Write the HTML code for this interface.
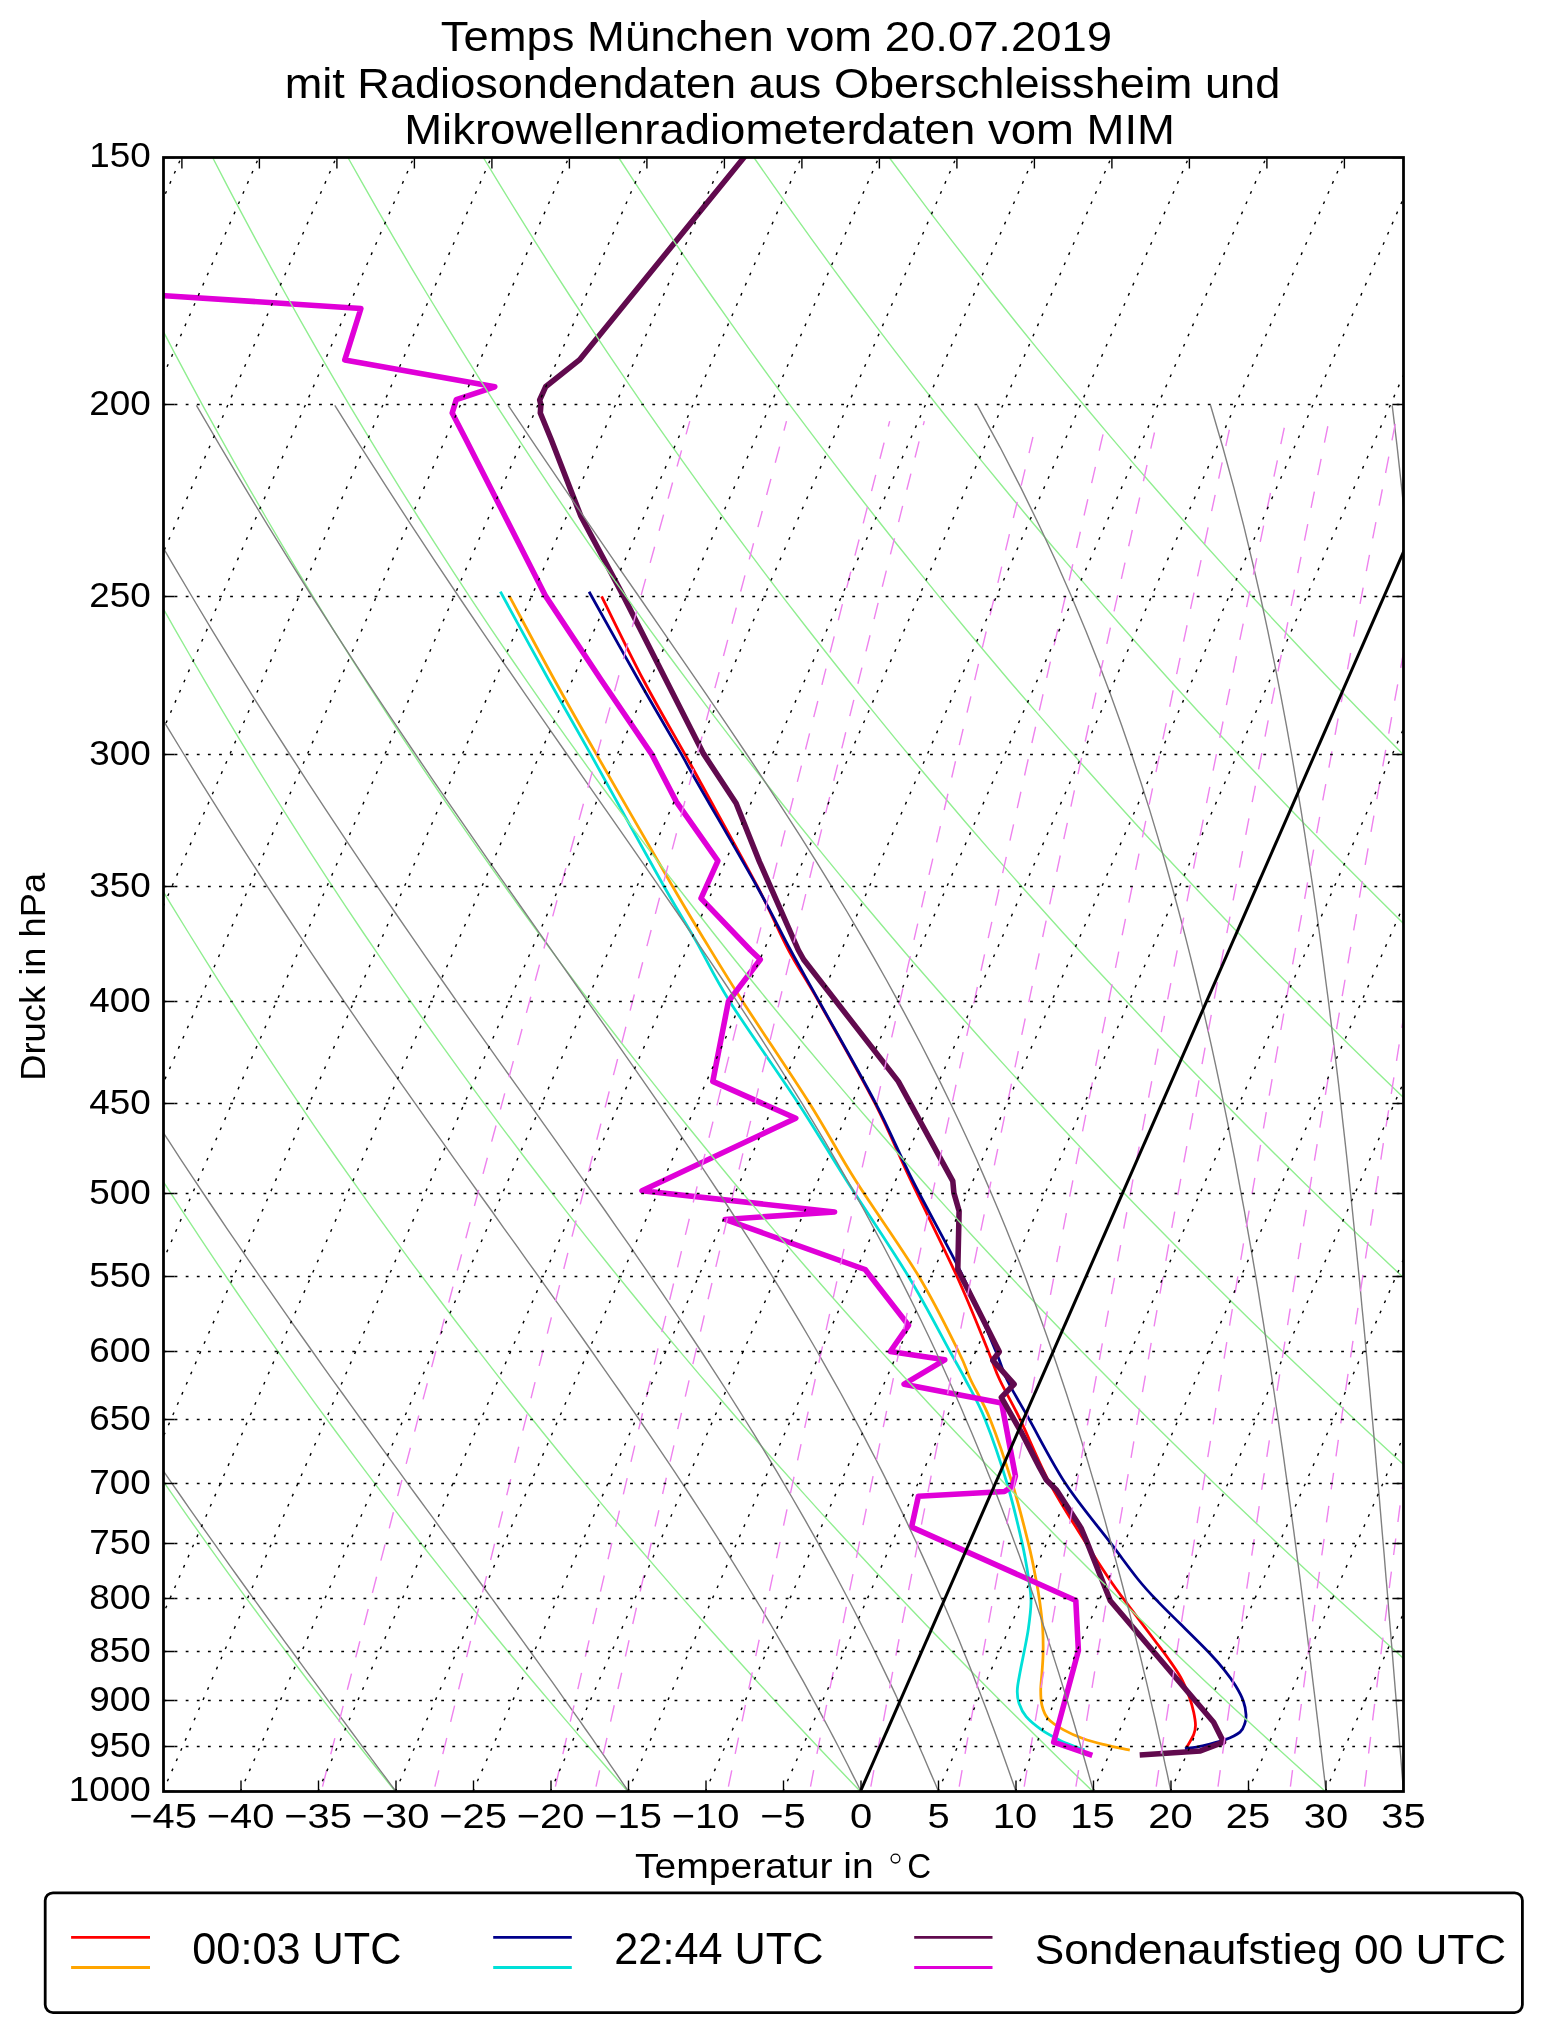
<!DOCTYPE html>
<html><head><meta charset="utf-8"><title>Temps</title>
<style>
html,body{margin:0;padding:0;background:#fff}
svg{display:block;will-change:transform}
text{font-family:"Liberation Sans",sans-serif;fill:#000}
.grid{fill:none;stroke:#000;stroke-width:1.4;stroke-dasharray:2.78 8.33}
.dry{fill:none;stroke:#90ee90;stroke-width:1.4}
.moist{fill:none;stroke:#808080;stroke-width:1.4}
.mix{fill:none;stroke:#ee82ee;stroke-width:1.4;stroke-dasharray:16.67 16.67}
.zero{fill:none;stroke:#000;stroke-width:3.0}
.tick{fill:none;stroke:#000;stroke-width:1.4}
.thin{fill:none;stroke-width:2.78;stroke-linecap:butt;stroke-linejoin:round}
.thick{fill:none;stroke-width:5.56;stroke-linecap:butt;stroke-linejoin:round}
</style></head><body>
<svg width="1542" height="2032" viewBox="0 0 1542 2032">
<rect width="1542" height="2032" fill="#fff"/>
<defs><clipPath id="c"><rect x="163.5" y="157.5" width="1240.0" height="1634.0"/></clipPath></defs>
<g clip-path="url(#c)">
<path d="M601.6 596.4 C608.6 610.3 629.5 653.7 643.4 680.0 C657.3 706.3 675.7 737.7 685.0 754.4 C694.3 771.1 687.2 758.0 699.2 780.0 C711.2 802.0 742.4 857.9 757.3 886.2 C772.2 914.5 778.3 930.8 788.5 950.0 C798.7 969.2 804.3 975.9 818.7 1001.5 C833.1 1027.1 859.7 1073.7 875.0 1103.4 C890.3 1133.2 896.9 1151.2 910.6 1180.0 C924.3 1208.8 944.0 1247.9 957.0 1276.5 C970.0 1305.1 981.3 1334.2 988.4 1351.5 C995.5 1368.8 994.5 1368.7 999.8 1380.0 C1005.1 1391.3 1011.8 1402.2 1020.1 1419.4 C1028.5 1436.7 1038.9 1462.8 1049.9 1483.5 C1060.9 1504.2 1076.2 1527.3 1086.2 1543.4 C1096.2 1559.5 1103.0 1569.8 1109.9 1580.0 C1116.8 1590.2 1120.2 1594.4 1127.6 1604.3 C1134.9 1614.2 1147.4 1630.7 1154.0 1639.5 C1160.6 1648.3 1162.9 1651.0 1167.3 1657.2 C1171.7 1663.5 1176.8 1670.4 1180.5 1677.0 C1184.2 1683.6 1187.1 1691.0 1189.3 1696.9 C1191.5 1702.8 1192.7 1707.5 1193.7 1712.3 C1194.7 1717.1 1195.5 1721.8 1195.5 1725.5 C1195.5 1729.2 1195.1 1730.9 1193.7 1734.4 C1192.3 1737.9 1188.4 1744.3 1187.1 1746.5 C1185.8 1748.7 1186.2 1747.4 1186.0 1747.6" class="thin" stroke="#ff0000"/>
<path d="M509.5 596.4 C517.0 610.3 540.0 653.7 554.5 680.0 C569.0 706.3 576.8 720.0 596.5 754.4 C616.2 788.8 654.5 855.3 672.5 886.2 C690.5 917.1 692.8 920.8 704.5 940.0 C716.2 959.2 725.2 974.3 742.7 1001.5 C760.2 1028.7 790.8 1073.7 809.6 1103.4 C828.4 1133.2 837.1 1151.2 855.3 1180.0 C873.5 1208.8 901.7 1247.9 918.9 1276.5 C936.1 1305.1 949.9 1334.2 958.5 1351.5 C967.1 1368.8 965.5 1368.7 970.8 1380.0 C976.1 1391.3 983.3 1402.2 990.2 1419.4 C997.1 1436.7 1005.9 1462.8 1012.3 1483.5 C1018.7 1504.2 1024.4 1527.3 1028.4 1543.4 C1032.4 1559.5 1034.2 1570.2 1036.1 1580.0 C1038.0 1589.8 1038.7 1594.0 1039.8 1602.1 C1040.9 1610.2 1042.2 1620.0 1042.7 1628.5 C1043.2 1637.0 1043.2 1645.5 1043.1 1652.8 C1043.0 1660.1 1042.4 1666.3 1042.0 1672.6 C1041.6 1678.8 1040.7 1684.8 1040.7 1690.3 C1040.7 1695.8 1040.8 1700.9 1042.0 1705.7 C1043.2 1710.5 1044.6 1714.9 1048.2 1718.9 C1051.8 1722.9 1057.7 1726.6 1063.6 1729.9 C1069.5 1733.2 1076.5 1736.3 1083.5 1738.8 C1090.5 1741.3 1097.8 1743.0 1105.5 1744.9 C1113.2 1746.8 1125.8 1749.3 1129.8 1750.2" class="thin" stroke="#ffa500"/>
<path d="M589.1 591.7 C597.3 606.4 623.1 652.9 638.5 680.0 C653.9 707.1 672.0 737.7 681.5 754.4 C691.0 771.1 683.2 758.0 695.8 780.0 C708.3 802.0 741.0 857.9 756.8 886.2 C772.6 914.5 780.1 930.8 790.5 950.0 C800.9 969.2 805.0 975.9 819.2 1001.5 C833.4 1027.1 860.2 1073.7 875.7 1103.4 C891.2 1133.2 897.9 1151.2 912.4 1180.0 C926.9 1208.8 949.1 1247.9 963.0 1276.5 C976.9 1305.1 988.5 1334.2 995.9 1351.5 C1003.2 1368.8 1001.5 1368.7 1007.1 1380.0 C1012.7 1391.3 1019.5 1402.2 1029.2 1419.4 C1038.9 1436.7 1051.9 1462.8 1065.5 1483.5 C1079.1 1504.2 1098.7 1527.3 1110.9 1543.4 C1123.1 1559.5 1130.7 1570.2 1138.6 1580.0 C1146.5 1589.8 1151.5 1594.8 1158.5 1602.1 C1165.5 1609.4 1172.0 1615.6 1180.5 1624.1 C1189.0 1632.5 1201.9 1645.1 1209.2 1652.8 C1216.5 1660.5 1220.2 1664.9 1224.6 1670.4 C1229.0 1675.9 1232.5 1680.7 1235.6 1685.8 C1238.7 1690.9 1241.7 1696.5 1243.4 1701.3 C1245.1 1706.1 1245.8 1710.8 1246.0 1714.5 C1246.2 1718.2 1245.9 1720.4 1244.9 1723.3 C1243.9 1726.2 1243.4 1729.3 1240.0 1732.1 C1236.6 1734.9 1230.8 1737.6 1224.6 1739.9 C1218.4 1742.2 1209.2 1744.3 1202.6 1745.8 C1196.0 1747.3 1187.9 1748.2 1184.9 1748.7" class="thin" stroke="#00008b"/>
<path d="M500.4 591.7 C508.5 606.4 533.7 652.9 548.8 680.0 C563.9 707.1 571.6 720.0 590.8 754.4 C610.0 788.8 646.4 855.3 663.9 886.2 C681.4 917.1 684.5 920.8 695.5 940.0 C706.5 959.2 712.6 974.3 729.7 1001.5 C746.9 1028.7 779.0 1073.7 798.4 1103.4 C817.8 1133.2 827.9 1151.2 846.2 1180.0 C864.6 1208.8 891.2 1247.9 908.5 1276.5 C925.8 1305.1 940.5 1334.2 950.0 1351.5 C959.5 1368.8 959.8 1368.7 965.6 1380.0 C971.5 1391.3 978.2 1402.2 985.1 1419.4 C992.0 1436.7 1000.9 1462.8 1007.1 1483.5 C1013.3 1504.2 1018.6 1527.3 1022.2 1543.4 C1025.8 1559.5 1027.3 1570.2 1028.8 1580.0 C1030.3 1589.8 1031.1 1594.0 1031.0 1602.1 C1030.9 1610.2 1029.6 1620.0 1028.4 1628.5 C1027.2 1637.0 1025.3 1645.5 1023.9 1652.8 C1022.5 1660.1 1021.1 1666.3 1020.0 1672.6 C1018.9 1678.8 1017.4 1685.1 1017.3 1690.3 C1017.1 1695.5 1017.6 1699.1 1019.1 1703.5 C1020.6 1707.9 1022.5 1712.3 1026.2 1716.7 C1030.0 1721.1 1036.1 1726.0 1041.6 1729.9 C1047.1 1733.8 1053.7 1737.1 1059.2 1739.9 C1064.7 1742.7 1070.5 1744.8 1074.7 1746.5 C1078.9 1748.2 1082.9 1749.2 1084.6 1749.8" class="thin" stroke="#00e0d8"/>
<path d="M140.0 294.2 L165.0 295.7 L360.9 308.5 L344.8 359.9 L494.8 386.8 L456.3 399.6 L452.2 413.0 L466.2 440.0 L545.8 596.4 L601.2 680.0 L651.8 754.4 L676.4 801.9 L717.9 860.8 L701.0 898.4 L750.3 950.0 L760.3 959.5 L728.4 1001.5 L712.8 1081.4 L795.8 1118.2 L642.0 1190.8 L834.6 1211.9 L725.1 1219.4 L865.2 1269.5 L908.5 1325.3 L890.3 1351.5 L944.8 1359.8 L904.1 1384.2 L1001.6 1403.0 L1015.4 1476.0 L1012.3 1486.4 L1004.5 1491.5 L918.4 1496.2 L911.6 1527.1 L1075.8 1600.5 L1078.4 1650.6 L1053.7 1742.1 L1092.3 1755.3" class="thick" stroke="#e000d8"/>
<path d="M756.4 142.2 L743.7 157.8 L579.4 359.9 L545.6 386.8 L539.7 400.0 L540.9 404.9 L540.3 413.0 L551.4 440.0 L580.8 516.0 L623.6 596.4 L666.0 680.0 L703.6 753.9 L736.1 803.2 L759.4 861.6 L798.3 950.0 L803.6 959.5 L898.3 1081.4 L952.8 1181.2 L953.9 1193.0 L959.1 1211.1 L957.8 1269.5 L999.3 1351.7 L992.8 1360.3 L1014.1 1384.2 L1001.3 1397.4 L1021.7 1433.0 L1039.2 1466.9 L1046.2 1479.7 L1056.7 1490.2 L1081.0 1527.9 L1087.5 1543.4 L1110.3 1600.8 L1213.6 1722.2 L1223.5 1742.1 L1200.4 1750.9 L1139.7 1754.9" class="thick" stroke="#610a4e"/>
<path d="M395.4 1791.5 L373.1 1763.8 L351.2 1736.1 L329.5 1708.4 L308.1 1680.7 L287.1 1653.0 L266.4 1625.3 L245.9 1597.6 L225.8 1569.9 L205.9 1542.2 L186.4 1514.6 L167.1 1486.9 L148.1 1459.2 L129.4 1431.5 L111.0 1403.8 L92.9 1376.1 L75.0 1348.4 L57.5 1320.7 L40.1 1293.0 L23.1 1265.3 L6.3 1237.6 L-10.2 1209.9 L-26.4 1182.2 L-42.4 1154.5 L-58.2 1126.8 L-73.6 1099.1 L-88.9 1071.4 L-103.9 1043.7 L-118.6 1016.0 L-133.1 988.3 L-147.3 960.7 L-161.3 933.0 L-175.1 905.3 L-188.6 877.6 L-201.9 849.9 L-215.0 822.2 L-227.8 794.5 L-240.4 766.8 L-252.8 739.1 L-264.9 711.4 L-276.8 683.7 L-288.6 656.0 L-300.0 628.3 L-311.3 600.6 L-322.4 572.9 L-333.2 545.2 L-343.9 517.5 L-354.3 489.8 L-364.5 462.1 L-374.6 434.4 L-384.4 406.8 L-394.0 379.1 L-403.4 351.4 L-412.7 323.7 L-421.7 296.0 L-430.5 268.3 L-439.2 240.6 L-447.6 212.9 L-455.9 185.2 L-464.0 157.5 M627.9 1791.5 L603.5 1763.8 L579.4 1736.1 L555.7 1708.4 L532.3 1680.7 L509.2 1653.0 L486.4 1625.3 L464.0 1597.6 L441.8 1569.9 L420.0 1542.2 L398.5 1514.6 L377.3 1486.9 L356.4 1459.2 L335.8 1431.5 L315.5 1403.8 L295.5 1376.1 L275.8 1348.4 L256.4 1320.7 L237.3 1293.0 L218.4 1265.3 L199.9 1237.6 L181.6 1209.9 L163.6 1182.2 L145.8 1154.5 L128.4 1126.8 L111.2 1099.1 L94.3 1071.4 L77.6 1043.7 L61.3 1016.0 L45.1 988.3 L29.3 960.7 L13.6 933.0 L-1.7 905.3 L-16.8 877.6 L-31.7 849.9 L-46.3 822.2 L-60.7 794.5 L-74.8 766.8 L-88.7 739.1 L-102.3 711.4 L-115.8 683.7 L-128.9 656.0 L-141.9 628.3 L-154.6 600.6 L-167.1 572.9 L-179.4 545.2 L-191.4 517.5 L-203.2 489.8 L-214.9 462.1 L-226.2 434.4 L-237.4 406.8 L-248.4 379.1 L-259.1 351.4 L-269.7 323.7 L-280.0 296.0 L-290.1 268.3 L-300.1 240.6 L-309.8 212.9 L-319.3 185.2 L-328.7 157.5 M860.4 1791.5 L833.9 1763.8 L807.7 1736.1 L781.9 1708.4 L756.4 1680.7 L731.3 1653.0 L706.5 1625.3 L682.0 1597.6 L657.9 1569.9 L634.1 1542.2 L610.6 1514.6 L587.5 1486.9 L564.7 1459.2 L542.2 1431.5 L520.0 1403.8 L498.1 1376.1 L476.6 1348.4 L455.3 1320.7 L434.4 1293.0 L413.7 1265.3 L393.4 1237.6 L373.3 1209.9 L353.6 1182.2 L334.1 1154.5 L314.9 1126.8 L296.1 1099.1 L277.5 1071.4 L259.1 1043.7 L241.1 1016.0 L223.3 988.3 L205.8 960.7 L188.6 933.0 L171.6 905.3 L154.9 877.6 L138.5 849.9 L122.3 822.2 L106.4 794.5 L90.8 766.8 L75.4 739.1 L60.2 711.4 L45.3 683.7 L30.7 656.0 L16.3 628.3 L2.1 600.6 L-11.8 572.9 L-25.5 545.2 L-39.0 517.5 L-52.2 489.8 L-65.2 462.1 L-77.9 434.4 L-90.5 406.8 L-102.8 379.1 L-114.8 351.4 L-126.7 323.7 L-138.3 296.0 L-149.8 268.3 L-161.0 240.6 L-172.0 212.9 L-182.8 185.2 L-193.3 157.5 M1092.9 1791.5 L1064.2 1763.8 L1036.0 1736.1 L1008.1 1708.4 L980.5 1680.7 L953.3 1653.0 L926.5 1625.3 L900.0 1597.6 L873.9 1569.9 L848.2 1542.2 L822.7 1514.6 L797.7 1486.9 L772.9 1459.2 L748.5 1431.5 L724.5 1403.8 L700.7 1376.1 L677.3 1348.4 L654.2 1320.7 L631.5 1293.0 L609.0 1265.3 L586.9 1237.6 L565.1 1209.9 L543.6 1182.2 L522.4 1154.5 L501.5 1126.8 L480.9 1099.1 L460.6 1071.4 L440.6 1043.7 L420.9 1016.0 L401.5 988.3 L382.4 960.7 L363.5 933.0 L345.0 905.3 L326.7 877.6 L308.7 849.9 L291.0 822.2 L273.5 794.5 L256.4 766.8 L239.4 739.1 L222.8 711.4 L206.4 683.7 L190.3 656.0 L174.4 628.3 L158.8 600.6 L143.5 572.9 L128.4 545.2 L113.5 517.5 L98.9 489.8 L84.5 462.1 L70.4 434.4 L56.5 406.8 L42.9 379.1 L29.5 351.4 L16.3 323.7 L3.3 296.0 L-9.4 268.3 L-21.9 240.6 L-34.1 212.9 L-46.2 185.2 L-58.0 157.5 M1325.4 1791.5 L1294.6 1763.8 L1264.2 1736.1 L1234.2 1708.4 L1204.6 1680.7 L1175.4 1653.0 L1146.6 1625.3 L1118.1 1597.6 L1090.0 1569.9 L1062.2 1542.2 L1034.9 1514.6 L1007.9 1486.9 L981.2 1459.2 L954.9 1431.5 L928.9 1403.8 L903.3 1376.1 L878.1 1348.4 L853.2 1320.7 L828.6 1293.0 L804.3 1265.3 L780.4 1237.6 L756.9 1209.9 L733.6 1182.2 L710.7 1154.5 L688.1 1126.8 L665.8 1099.1 L643.8 1071.4 L622.1 1043.7 L600.7 1016.0 L579.7 988.3 L558.9 960.7 L538.5 933.0 L518.3 905.3 L498.5 877.6 L478.9 849.9 L459.6 822.2 L440.6 794.5 L421.9 766.8 L403.5 739.1 L385.4 711.4 L367.5 683.7 L349.9 656.0 L332.6 628.3 L315.5 600.6 L298.7 572.9 L282.2 545.2 L266.0 517.5 L250.0 489.8 L234.2 462.1 L218.7 434.4 L203.5 406.8 L188.5 379.1 L173.7 351.4 L159.3 323.7 L145.0 296.0 L131.0 268.3 L117.2 240.6 L103.7 212.9 L90.4 185.2 L77.3 157.5 M1557.9 1791.5 L1525.0 1763.8 L1492.5 1736.1 L1460.4 1708.4 L1428.8 1680.7 L1397.5 1653.0 L1366.6 1625.3 L1336.1 1597.6 L1306.0 1569.9 L1276.3 1542.2 L1247.0 1514.6 L1218.0 1486.9 L1189.5 1459.2 L1161.3 1431.5 L1133.4 1403.8 L1106.0 1376.1 L1078.8 1348.4 L1052.1 1320.7 L1025.7 1293.0 L999.7 1265.3 L974.0 1237.6 L948.6 1209.9 L923.6 1182.2 L898.9 1154.5 L874.6 1126.8 L850.6 1099.1 L826.9 1071.4 L803.6 1043.7 L780.6 1016.0 L757.9 988.3 L735.5 960.7 L713.4 933.0 L691.7 905.3 L670.2 877.6 L649.1 849.9 L628.3 822.2 L607.8 794.5 L587.5 766.8 L567.6 739.1 L547.9 711.4 L528.6 683.7 L509.5 656.0 L490.7 628.3 L472.2 600.6 L454.0 572.9 L436.1 545.2 L418.4 517.5 L401.0 489.8 L383.9 462.1 L367.0 434.4 L350.4 406.8 L334.1 379.1 L318.0 351.4 L302.2 323.7 L286.7 296.0 L271.4 268.3 L256.3 240.6 L241.5 212.9 L226.9 185.2 L212.6 157.5 M1790.4 1791.5 L1755.4 1763.8 L1720.8 1736.1 L1686.6 1708.4 L1652.9 1680.7 L1619.6 1653.0 L1586.7 1625.3 L1554.2 1597.6 L1522.1 1569.9 L1490.4 1542.2 L1459.1 1514.6 L1428.2 1486.9 L1397.7 1459.2 L1367.6 1431.5 L1337.9 1403.8 L1308.6 1376.1 L1279.6 1348.4 L1251.0 1320.7 L1222.8 1293.0 L1195.0 1265.3 L1167.5 1237.6 L1140.4 1209.9 L1113.6 1182.2 L1087.2 1154.5 L1061.2 1126.8 L1035.5 1099.1 L1010.1 1071.4 L985.1 1043.7 L960.4 1016.0 L936.1 988.3 L912.1 960.7 L888.4 933.0 L865.0 905.3 L842.0 877.6 L819.3 849.9 L796.9 822.2 L774.9 794.5 L753.1 766.8 L731.7 739.1 L710.5 711.4 L689.7 683.7 L669.1 656.0 L648.9 628.3 L629.0 600.6 L609.3 572.9 L589.9 545.2 L570.9 517.5 L552.1 489.8 L533.6 462.1 L515.4 434.4 L497.4 406.8 L479.7 379.1 L462.3 351.4 L445.2 323.7 L428.3 296.0 L411.7 268.3 L395.4 240.6 L379.3 212.9 L363.5 185.2 L347.9 157.5 M2022.9 1791.5 L1985.8 1763.8 L1949.1 1736.1 L1912.8 1708.4 L1877.0 1680.7 L1841.6 1653.0 L1806.7 1625.3 L1772.2 1597.6 L1738.1 1569.9 L1704.5 1542.2 L1671.2 1514.6 L1638.4 1486.9 L1606.0 1459.2 L1574.0 1431.5 L1542.4 1403.8 L1511.2 1376.1 L1480.4 1348.4 L1449.9 1320.7 L1419.9 1293.0 L1390.3 1265.3 L1361.0 1237.6 L1332.1 1209.9 L1303.6 1182.2 L1275.5 1154.5 L1247.7 1126.8 L1220.3 1099.1 L1193.3 1071.4 L1166.6 1043.7 L1140.2 1016.0 L1114.3 988.3 L1088.6 960.7 L1063.3 933.0 L1038.4 905.3 L1013.8 877.6 L989.5 849.9 L965.6 822.2 L942.0 794.5 L918.7 766.8 L895.7 739.1 L873.1 711.4 L850.8 683.7 L828.8 656.0 L807.1 628.3 L785.7 600.6 L764.6 572.9 L743.8 545.2 L723.3 517.5 L703.2 489.8 L683.3 462.1 L663.7 434.4 L644.4 406.8 L625.4 379.1 L606.6 351.4 L588.2 323.7 L570.0 296.0 L552.1 268.3 L534.5 240.6 L517.2 212.9 L500.1 185.2 L483.3 157.5 M2255.4 1791.5 L2216.1 1763.8 L2177.3 1736.1 L2139.0 1708.4 L2101.1 1680.7 L2063.7 1653.0 L2026.8 1625.3 L1990.2 1597.6 L1954.2 1569.9 L1918.5 1542.2 L1883.3 1514.6 L1848.6 1486.9 L1814.3 1459.2 L1780.3 1431.5 L1746.9 1403.8 L1713.8 1376.1 L1681.1 1348.4 L1648.9 1320.7 L1617.0 1293.0 L1585.6 1265.3 L1554.5 1237.6 L1523.9 1209.9 L1493.6 1182.2 L1463.8 1154.5 L1434.3 1126.8 L1405.2 1099.1 L1376.4 1071.4 L1348.1 1043.7 L1320.1 1016.0 L1292.5 988.3 L1265.2 960.7 L1238.3 933.0 L1211.8 905.3 L1185.6 877.6 L1159.7 849.9 L1134.2 822.2 L1109.1 794.5 L1084.3 766.8 L1059.8 739.1 L1035.7 711.4 L1011.8 683.7 L988.4 656.0 L965.2 628.3 L942.4 600.6 L919.9 572.9 L897.7 545.2 L875.8 517.5 L854.2 489.8 L833.0 462.1 L812.0 434.4 L791.3 406.8 L771.0 379.1 L750.9 351.4 L731.2 323.7 L711.7 296.0 L692.5 268.3 L673.6 240.6 L655.0 212.9 L636.6 185.2 L618.6 157.5 M2487.9 1791.5 L2446.5 1763.8 L2405.6 1736.1 L2365.2 1708.4 L2325.3 1680.7 L2285.8 1653.0 L2246.8 1625.3 L2208.3 1597.6 L2170.2 1569.9 L2132.6 1542.2 L2095.5 1514.6 L2058.8 1486.9 L2022.5 1459.2 L1986.7 1431.5 L1951.3 1403.8 L1916.4 1376.1 L1881.9 1348.4 L1847.8 1320.7 L1814.1 1293.0 L1780.9 1265.3 L1748.1 1237.6 L1715.7 1209.9 L1683.6 1182.2 L1652.0 1154.5 L1620.8 1126.8 L1590.0 1099.1 L1559.6 1071.4 L1529.6 1043.7 L1499.9 1016.0 L1470.6 988.3 L1441.8 960.7 L1413.2 933.0 L1385.1 905.3 L1357.3 877.6 L1329.9 849.9 L1302.9 822.2 L1276.2 794.5 L1249.8 766.8 L1223.9 739.1 L1198.2 711.4 L1172.9 683.7 L1148.0 656.0 L1123.4 628.3 L1099.1 600.6 L1075.2 572.9 L1051.5 545.2 L1028.3 517.5 L1005.3 489.8 L982.6 462.1 L960.3 434.4 L938.3 406.8 L916.6 379.1 L895.2 351.4 L874.1 323.7 L853.4 296.0 L832.9 268.3 L812.7 240.6 L792.8 212.9 L773.2 185.2 L753.9 157.5 M2720.4 1791.5 L2676.9 1763.8 L2633.9 1736.1 L2591.4 1708.4 L2549.4 1680.7 L2507.9 1653.0 L2466.9 1625.3 L2426.3 1597.6 L2386.3 1569.9 L2346.7 1542.2 L2307.6 1514.6 L2269.0 1486.9 L2230.8 1459.2 L2193.1 1431.5 L2155.8 1403.8 L2119.0 1376.1 L2082.6 1348.4 L2046.7 1320.7 L2011.3 1293.0 L1976.2 1265.3 L1941.6 1237.6 L1907.4 1209.9 L1873.6 1182.2 L1840.3 1154.5 L1807.4 1126.8 L1774.9 1099.1 L1742.8 1071.4 L1711.0 1043.7 L1679.7 1016.0 L1648.8 988.3 L1618.3 960.7 L1588.2 933.0 L1558.5 905.3 L1529.1 877.6 L1500.1 849.9 L1471.5 822.2 L1443.3 794.5 L1415.4 766.8 L1387.9 739.1 L1360.8 711.4 L1334.0 683.7 L1307.6 656.0 L1281.5 628.3 L1255.8 600.6 L1230.4 572.9 L1205.4 545.2 L1180.7 517.5 L1156.4 489.8 L1132.3 462.1 L1108.6 434.4 L1085.3 406.8 L1062.2 379.1 L1039.5 351.4 L1017.1 323.7 L995.0 296.0 L973.3 268.3 L951.8 240.6 L930.6 212.9 L909.8 185.2 L889.2 157.5" class="dry"/>
<path d="M396.0 1791.5 L389.5 1782.8 L383.0 1774.1 L376.4 1765.3 L369.8 1756.3 L363.0 1747.3 L356.2 1738.2 L349.4 1729.0 L342.5 1719.7 L335.5 1710.3 L328.4 1700.8 L321.3 1691.1 L314.1 1681.4 L306.8 1671.6 L299.5 1661.6 L292.1 1651.5 L284.6 1641.3 L277.1 1631.0 L269.5 1620.6 L261.8 1610.0 L254.1 1599.3 L246.3 1588.5 L238.4 1577.5 L230.4 1566.4 L222.4 1555.1 L214.3 1543.7 L206.1 1532.2 L197.8 1520.4 L189.5 1508.6 L181.1 1496.5 L172.6 1484.3 L164.0 1471.9 L155.4 1459.3 L146.6 1446.6 L137.8 1433.6 L128.9 1420.5 L120.0 1407.1 L110.9 1393.5 L101.8 1379.8 L92.5 1365.8 L83.2 1351.5 L73.8 1337.0 L64.3 1322.3 L54.7 1307.3 L45.0 1292.1 L35.2 1276.6 L25.3 1260.8 L15.4 1244.7 L5.3 1228.3 L-4.9 1211.5 L-15.2 1194.5 L-25.7 1177.1 L-36.2 1159.3 L-46.8 1141.2 L-57.6 1122.7 L-68.5 1103.7 L-79.5 1084.4 L-90.7 1064.6 L-102.0 1044.3 L-113.4 1023.6 L-124.9 1002.3 L-136.7 980.5 L-148.5 958.1 L-160.5 935.1 L-172.7 911.5 L-185.1 887.3 L-197.6 862.3 L-210.3 836.6 L-223.2 810.1 L-236.3 782.8 L-249.6 754.5 L-263.1 725.3 L-276.9 695.1 L-290.8 663.8 L-305.0 631.3 L-319.5 597.5 L-334.2 562.3 L-349.3 525.7 L-364.6 487.4 L-380.2 447.3 L-396.1 405.3 M628.5 1791.5 L622.6 1782.8 L616.7 1774.1 L610.6 1765.3 L604.5 1756.3 L598.2 1747.3 L591.9 1738.2 L585.4 1729.0 L578.9 1719.7 L572.3 1710.3 L565.5 1700.8 L558.7 1691.1 L551.8 1681.4 L544.7 1671.6 L537.6 1661.6 L530.3 1651.5 L523.0 1641.3 L515.5 1631.0 L507.9 1620.6 L500.2 1610.0 L492.5 1599.3 L484.5 1588.5 L476.5 1577.5 L468.4 1566.4 L460.2 1555.1 L451.8 1543.7 L443.3 1532.2 L434.8 1520.4 L426.1 1508.6 L417.2 1496.5 L408.3 1484.3 L399.3 1471.9 L390.1 1459.3 L380.8 1446.6 L371.4 1433.6 L361.9 1420.5 L352.3 1407.1 L342.5 1393.5 L332.6 1379.8 L322.6 1365.8 L312.5 1351.5 L302.2 1337.0 L291.8 1322.3 L281.3 1307.3 L270.7 1292.1 L259.9 1276.6 L249.0 1260.8 L238.0 1244.7 L226.8 1228.3 L215.5 1211.5 L204.1 1194.5 L192.5 1177.1 L180.7 1159.3 L168.9 1141.2 L156.8 1122.7 L144.6 1103.7 L132.3 1084.4 L119.8 1064.6 L107.1 1044.3 L94.3 1023.6 L81.3 1002.3 L68.1 980.5 L54.7 958.1 L41.1 935.1 L27.4 911.5 L13.4 887.3 L-0.8 862.3 L-15.2 836.6 L-29.8 810.1 L-44.7 782.8 L-59.8 754.5 L-75.2 725.3 L-90.9 695.1 L-106.8 663.8 L-123.0 631.3 L-139.6 597.5 L-156.4 562.3 L-173.7 525.7 L-191.2 487.4 L-209.2 447.3 L-227.6 405.3 M861.0 1791.5 L856.7 1782.8 L852.3 1774.1 L847.9 1765.3 L843.3 1756.3 L838.7 1747.3 L833.9 1738.2 L829.1 1729.0 L824.1 1719.7 L819.1 1710.3 L813.9 1700.8 L808.6 1691.1 L803.3 1681.4 L797.8 1671.6 L792.1 1661.6 L786.4 1651.5 L780.5 1641.3 L774.5 1631.0 L768.4 1620.6 L762.1 1610.0 L755.7 1599.3 L749.1 1588.5 L742.4 1577.5 L735.5 1566.4 L728.5 1555.1 L721.3 1543.7 L714.0 1532.2 L706.5 1520.4 L698.8 1508.6 L690.9 1496.5 L682.9 1484.3 L674.7 1471.9 L666.3 1459.3 L657.7 1446.6 L648.9 1433.6 L639.9 1420.5 L630.7 1407.1 L621.3 1393.5 L611.7 1379.8 L601.9 1365.8 L591.9 1351.5 L581.7 1337.0 L571.3 1322.3 L560.6 1307.3 L549.7 1292.1 L538.7 1276.6 L527.3 1260.8 L515.8 1244.7 L504.0 1228.3 L492.1 1211.5 L479.8 1194.5 L467.4 1177.1 L454.7 1159.3 L441.8 1141.2 L428.7 1122.7 L415.3 1103.7 L401.7 1084.4 L387.8 1064.6 L373.7 1044.3 L359.4 1023.6 L344.8 1002.3 L329.9 980.5 L314.8 958.1 L299.4 935.1 L283.8 911.5 L267.9 887.3 L251.7 862.3 L235.2 836.6 L218.5 810.1 L201.4 782.8 L184.0 754.5 L166.3 725.3 L148.2 695.1 L129.8 663.8 L110.9 631.3 L91.8 597.5 L72.1 562.3 L52.1 525.7 L31.6 487.4 L10.6 447.3 L-10.9 405.3 M938.5 1791.5 L934.9 1782.8 L931.1 1774.1 L927.3 1765.3 L923.5 1756.3 L919.5 1747.3 L915.5 1738.2 L911.4 1729.0 L907.1 1719.7 L902.8 1710.3 L898.4 1700.8 L893.9 1691.1 L889.3 1681.4 L884.6 1671.6 L879.8 1661.6 L874.8 1651.5 L869.8 1641.3 L864.6 1631.0 L859.3 1620.6 L853.9 1610.0 L848.3 1599.3 L842.6 1588.5 L836.8 1577.5 L830.8 1566.4 L824.7 1555.1 L818.4 1543.7 L811.9 1532.2 L805.3 1520.4 L798.5 1508.6 L791.5 1496.5 L784.3 1484.3 L777.0 1471.9 L769.4 1459.3 L761.7 1446.6 L753.7 1433.6 L745.5 1420.5 L737.1 1407.1 L728.5 1393.5 L719.7 1379.8 L710.6 1365.8 L701.3 1351.5 L691.7 1337.0 L681.9 1322.3 L671.8 1307.3 L661.5 1292.1 L650.9 1276.6 L640.0 1260.8 L628.9 1244.7 L617.4 1228.3 L605.7 1211.5 L593.7 1194.5 L581.4 1177.1 L568.9 1159.3 L556.0 1141.2 L542.8 1122.7 L529.4 1103.7 L515.6 1084.4 L501.5 1064.6 L487.2 1044.3 L472.5 1023.6 L457.5 1002.3 L442.2 980.5 L426.6 958.1 L410.7 935.1 L394.4 911.5 L377.9 887.3 L361.0 862.3 L343.7 836.6 L326.1 810.1 L308.2 782.8 L289.9 754.5 L271.2 725.3 L252.1 695.1 L232.7 663.8 L212.8 631.3 L192.5 597.5 L171.7 562.3 L150.4 525.7 L128.7 487.4 L106.3 447.3 L83.5 405.3 M1016.0 1791.5 L1013.0 1782.8 L1009.9 1774.1 L1006.8 1765.3 L1003.6 1756.3 L1000.4 1747.3 L997.1 1738.2 L993.7 1729.0 L990.2 1719.7 L986.7 1710.3 L983.0 1700.8 L979.3 1691.1 L975.5 1681.4 L971.7 1671.6 L967.7 1661.6 L963.6 1651.5 L959.5 1641.3 L955.2 1631.0 L950.8 1620.6 L946.3 1610.0 L941.7 1599.3 L937.0 1588.5 L932.2 1577.5 L927.2 1566.4 L922.1 1555.1 L916.9 1543.7 L911.5 1532.2 L906.0 1520.4 L900.3 1508.6 L894.4 1496.5 L888.4 1484.3 L882.2 1471.9 L875.8 1459.3 L869.2 1446.6 L862.5 1433.6 L855.5 1420.5 L848.3 1407.1 L840.9 1393.5 L833.2 1379.8 L825.3 1365.8 L817.2 1351.5 L808.8 1337.0 L800.2 1322.3 L791.2 1307.3 L782.0 1292.1 L772.5 1276.6 L762.7 1260.8 L752.5 1244.7 L742.0 1228.3 L731.2 1211.5 L720.1 1194.5 L708.6 1177.1 L696.8 1159.3 L684.6 1141.2 L672.0 1122.7 L659.0 1103.7 L645.6 1084.4 L631.9 1064.6 L617.7 1044.3 L603.2 1023.6 L588.2 1002.3 L572.9 980.5 L557.1 958.1 L540.9 935.1 L524.3 911.5 L507.3 887.3 L489.8 862.3 L472.0 836.6 L453.7 810.1 L434.9 782.8 L415.7 754.5 L396.1 725.3 L375.9 695.1 L355.4 663.8 L334.3 631.3 L312.7 597.5 L290.6 562.3 L267.9 525.7 L244.7 487.4 L220.9 447.3 L196.4 405.3 M1093.5 1791.5 L1091.1 1782.8 L1088.7 1774.1 L1086.2 1765.3 L1083.6 1756.3 L1081.0 1747.3 L1078.4 1738.2 L1075.7 1729.0 L1073.0 1719.7 L1070.1 1710.3 L1067.3 1700.8 L1064.3 1691.1 L1061.3 1681.4 L1058.3 1671.6 L1055.1 1661.6 L1051.9 1651.5 L1048.6 1641.3 L1045.3 1631.0 L1041.8 1620.6 L1038.3 1610.0 L1034.7 1599.3 L1030.9 1588.5 L1027.1 1577.5 L1023.2 1566.4 L1019.2 1555.1 L1015.0 1543.7 L1010.8 1532.2 L1006.4 1520.4 L1001.9 1508.6 L997.3 1496.5 L992.6 1484.3 L987.6 1471.9 L982.6 1459.3 L977.4 1446.6 L972.0 1433.6 L966.4 1420.5 L960.7 1407.1 L954.8 1393.5 L948.6 1379.8 L942.3 1365.8 L935.8 1351.5 L929.0 1337.0 L921.9 1322.3 L914.6 1307.3 L907.1 1292.1 L899.3 1276.6 L891.1 1260.8 L882.7 1244.7 L873.9 1228.3 L864.8 1211.5 L855.4 1194.5 L845.5 1177.1 L835.3 1159.3 L824.7 1141.2 L813.6 1122.7 L802.2 1103.7 L790.2 1084.4 L777.8 1064.6 L764.9 1044.3 L751.5 1023.6 L737.6 1002.3 L723.1 980.5 L708.1 958.1 L692.5 935.1 L676.4 911.5 L659.7 887.3 L642.4 862.3 L624.5 836.6 L606.0 810.1 L586.9 782.8 L567.2 754.5 L546.9 725.3 L525.9 695.1 L504.4 663.8 L482.2 631.3 L459.3 597.5 L435.8 562.3 L411.6 525.7 L386.8 487.4 L361.2 447.3 L334.8 405.3 M1171.0 1791.5 L1169.1 1782.8 L1167.3 1774.1 L1165.3 1765.3 L1163.4 1756.3 L1161.4 1747.3 L1159.3 1738.2 L1157.3 1729.0 L1155.2 1719.7 L1153.0 1710.3 L1150.8 1700.8 L1148.6 1691.1 L1146.3 1681.4 L1143.9 1671.6 L1141.6 1661.6 L1139.1 1651.5 L1136.6 1641.3 L1134.1 1631.0 L1131.5 1620.6 L1128.8 1610.0 L1126.1 1599.3 L1123.3 1588.5 L1120.4 1577.5 L1117.4 1566.4 L1114.4 1555.1 L1111.3 1543.7 L1108.1 1532.2 L1104.9 1520.4 L1101.5 1508.6 L1098.1 1496.5 L1094.5 1484.3 L1090.8 1471.9 L1087.1 1459.3 L1083.2 1446.6 L1079.2 1433.6 L1075.1 1420.5 L1070.8 1407.1 L1066.4 1393.5 L1061.8 1379.8 L1057.1 1365.8 L1052.2 1351.5 L1047.2 1337.0 L1041.9 1322.3 L1036.5 1307.3 L1030.8 1292.1 L1025.0 1276.6 L1018.9 1260.8 L1012.5 1244.7 L1005.9 1228.3 L999.0 1211.5 L991.8 1194.5 L984.3 1177.1 L976.5 1159.3 L968.3 1141.2 L959.7 1122.7 L950.7 1103.7 L941.3 1084.4 L931.4 1064.6 L921.0 1044.3 L910.1 1023.6 L898.7 1002.3 L886.7 980.5 L874.1 958.1 L860.8 935.1 L846.9 911.5 L832.2 887.3 L816.8 862.3 L800.6 836.6 L783.5 810.1 L765.7 782.8 L746.9 754.5 L727.3 725.3 L706.8 695.1 L685.3 663.8 L662.9 631.3 L639.6 597.5 L615.2 562.3 L590.0 525.7 L563.7 487.4 L536.5 447.3 L508.2 405.3 M1326.0 1791.5 L1325.0 1782.8 L1324.0 1774.1 L1322.9 1765.3 L1321.9 1756.3 L1320.8 1747.3 L1319.7 1738.2 L1318.7 1729.0 L1317.5 1719.7 L1316.4 1710.3 L1315.3 1700.8 L1314.1 1691.1 L1312.9 1681.4 L1311.7 1671.6 L1310.5 1661.6 L1309.2 1651.5 L1308.0 1641.3 L1306.7 1631.0 L1305.4 1620.6 L1304.0 1610.0 L1302.7 1599.3 L1301.3 1588.5 L1299.9 1577.5 L1298.4 1566.4 L1296.9 1555.1 L1295.4 1543.7 L1293.9 1532.2 L1292.3 1520.4 L1290.7 1508.6 L1289.1 1496.5 L1287.4 1484.3 L1285.6 1471.9 L1283.9 1459.3 L1282.1 1446.6 L1280.2 1433.6 L1278.3 1420.5 L1276.3 1407.1 L1274.3 1393.5 L1272.2 1379.8 L1270.1 1365.8 L1267.9 1351.5 L1265.6 1337.0 L1263.3 1322.3 L1260.8 1307.3 L1258.4 1292.1 L1255.8 1276.6 L1253.1 1260.8 L1250.3 1244.7 L1247.4 1228.3 L1244.5 1211.5 L1241.3 1194.5 L1238.1 1177.1 L1234.8 1159.3 L1231.2 1141.2 L1227.6 1122.7 L1223.7 1103.7 L1219.7 1084.4 L1215.5 1064.6 L1211.1 1044.3 L1206.4 1023.6 L1201.5 1002.3 L1196.3 980.5 L1190.8 958.1 L1185.0 935.1 L1178.8 911.5 L1172.2 887.3 L1165.2 862.3 L1157.7 836.6 L1149.7 810.1 L1141.0 782.8 L1131.7 754.5 L1121.6 725.3 L1110.7 695.1 L1098.9 663.8 L1086.0 631.3 L1071.9 597.5 L1056.4 562.3 L1039.4 525.7 L1020.7 487.4 L1000.1 447.3 L977.3 405.3 M1403.5 1791.5 L1402.8 1782.8 L1402.1 1774.1 L1401.4 1765.3 L1400.7 1756.3 L1399.9 1747.3 L1399.2 1738.2 L1398.5 1729.0 L1397.7 1719.7 L1396.9 1710.3 L1396.2 1700.8 L1395.4 1691.1 L1394.6 1681.4 L1393.8 1671.6 L1393.0 1661.6 L1392.2 1651.5 L1391.3 1641.3 L1390.5 1631.0 L1389.6 1620.6 L1388.7 1610.0 L1387.9 1599.3 L1387.0 1588.5 L1386.0 1577.5 L1385.1 1566.4 L1384.2 1555.1 L1383.2 1543.7 L1382.2 1532.2 L1381.2 1520.4 L1380.2 1508.6 L1379.2 1496.5 L1378.1 1484.3 L1377.0 1471.9 L1375.9 1459.3 L1374.8 1446.6 L1373.7 1433.6 L1372.5 1420.5 L1371.3 1407.1 L1370.1 1393.5 L1368.8 1379.8 L1367.5 1365.8 L1366.2 1351.5 L1364.9 1337.0 L1363.5 1322.3 L1362.0 1307.3 L1360.6 1292.1 L1359.1 1276.6 L1357.5 1260.8 L1355.9 1244.7 L1354.2 1228.3 L1352.5 1211.5 L1350.7 1194.5 L1348.9 1177.1 L1347.0 1159.3 L1345.0 1141.2 L1342.9 1122.7 L1340.8 1103.7 L1338.6 1084.4 L1336.2 1064.6 L1333.8 1044.3 L1331.2 1023.6 L1328.6 1002.3 L1325.7 980.5 L1322.8 958.1 L1319.7 935.1 L1316.4 911.5 L1312.9 887.3 L1309.1 862.3 L1305.2 836.6 L1301.0 810.1 L1296.4 782.8 L1291.6 754.5 L1286.4 725.3 L1280.7 695.1 L1274.6 663.8 L1267.9 631.3 L1260.6 597.5 L1252.5 562.3 L1243.7 525.7 L1233.8 487.4 L1222.8 447.3 L1210.5 405.3 M1481.0 1791.5 L1480.5 1782.8 L1480.1 1774.1 L1479.6 1765.3 L1479.2 1756.3 L1478.7 1747.3 L1478.2 1738.2 L1477.8 1729.0 L1477.3 1719.7 L1476.8 1710.3 L1476.3 1700.8 L1475.8 1691.1 L1475.3 1681.4 L1474.8 1671.6 L1474.3 1661.6 L1473.8 1651.5 L1473.3 1641.3 L1472.8 1631.0 L1472.3 1620.6 L1471.8 1610.0 L1471.3 1599.3 L1470.7 1588.5 L1470.2 1577.5 L1469.6 1566.4 L1469.1 1555.1 L1468.5 1543.7 L1468.0 1532.2 L1467.4 1520.4 L1466.8 1508.6 L1466.3 1496.5 L1465.7 1484.3 L1465.1 1471.9 L1464.5 1459.3 L1463.8 1446.6 L1463.2 1433.6 L1462.6 1420.5 L1462.0 1407.1 L1461.3 1393.5 L1460.6 1379.8 L1460.0 1365.8 L1459.3 1351.5 L1458.6 1337.0 L1457.9 1322.3 L1457.1 1307.3 L1456.4 1292.1 L1455.6 1276.6 L1454.8 1260.8 L1454.0 1244.7 L1453.2 1228.3 L1452.4 1211.5 L1451.5 1194.5 L1450.6 1177.1 L1449.7 1159.3 L1448.8 1141.2 L1447.8 1122.7 L1446.8 1103.7 L1445.8 1084.4 L1444.7 1064.6 L1443.6 1044.3 L1442.4 1023.6 L1441.2 1002.3 L1440.0 980.5 L1438.7 958.1 L1437.3 935.1 L1435.9 911.5 L1434.3 887.3 L1432.7 862.3 L1431.0 836.6 L1429.2 810.1 L1427.3 782.8 L1425.3 754.5 L1423.1 725.3 L1420.7 695.1 L1418.2 663.8 L1415.4 631.3 L1412.4 597.5 L1409.2 562.3 L1405.6 525.7 L1401.6 487.4 L1397.2 447.3 L1392.2 405.3" class="moist"/>
<path d="M322.5 1786.6 L328.4 1763.4 L334.3 1740.3 L340.3 1717.1 L346.2 1694.0 L352.2 1670.9 L358.2 1647.7 L364.2 1624.6 L370.2 1601.4 L376.2 1578.3 L382.3 1555.1 L388.3 1532.0 L394.3 1508.8 L400.4 1485.7 L406.5 1462.6 L412.6 1439.4 L418.6 1416.3 L424.7 1393.1 L430.9 1370.0 L437.0 1346.8 L443.1 1323.7 L449.3 1300.5 L455.4 1277.4 L461.6 1254.3 L467.7 1231.1 L473.9 1208.0 L480.1 1184.8 L486.3 1161.7 L492.5 1138.5 L498.8 1115.4 L505.0 1092.3 L511.2 1069.1 L517.5 1046.0 L523.7 1022.8 L530.0 999.7 L536.3 976.5 L542.6 953.4 L548.9 930.2 L555.2 907.1 L561.5 884.0 L567.8 860.8 L574.2 837.7 L580.5 814.5 L586.9 791.4 L593.2 768.2 L599.6 745.1 L606.0 721.9 L612.4 698.8 L618.8 675.7 L625.2 652.5 L631.6 629.4 L638.1 606.2 L644.5 583.1 L651.0 559.9 L657.4 536.8 L663.9 513.6 L670.4 490.5 L676.8 467.4 L683.3 444.2 L689.8 421.1 M434.9 1786.6 L440.5 1763.4 L446.2 1740.3 L451.8 1717.1 L457.5 1694.0 L463.2 1670.9 L468.9 1647.7 L474.6 1624.6 L480.3 1601.4 L486.0 1578.3 L491.8 1555.1 L497.5 1532.0 L503.3 1508.8 L509.1 1485.7 L514.8 1462.6 L520.6 1439.4 L526.5 1416.3 L532.3 1393.1 L538.1 1370.0 L544.0 1346.8 L549.8 1323.7 L555.7 1300.5 L561.6 1277.4 L567.5 1254.3 L573.4 1231.1 L579.3 1208.0 L585.2 1184.8 L591.1 1161.7 L597.1 1138.5 L603.0 1115.4 L609.0 1092.3 L615.0 1069.1 L621.0 1046.0 L626.9 1022.8 L633.0 999.7 L639.0 976.5 L645.0 953.4 L651.1 930.2 L657.1 907.1 L663.2 884.0 L669.2 860.8 L675.3 837.7 L681.4 814.5 L687.5 791.4 L693.6 768.2 L699.8 745.1 L705.9 721.9 L712.0 698.8 L718.2 675.7 L724.4 652.5 L730.5 629.4 L736.7 606.2 L742.9 583.1 L749.1 559.9 L755.3 536.8 L761.6 513.6 L767.8 490.5 L774.0 467.4 L780.3 444.2 L786.5 421.1 M555.4 1786.6 L560.7 1763.4 L566.0 1740.3 L571.3 1717.1 L576.7 1694.0 L582.0 1670.9 L587.4 1647.7 L592.8 1624.6 L598.2 1601.4 L603.6 1578.3 L609.0 1555.1 L614.4 1532.0 L619.9 1508.8 L625.4 1485.7 L630.8 1462.6 L636.3 1439.4 L641.8 1416.3 L647.3 1393.1 L652.9 1370.0 L658.4 1346.8 L663.9 1323.7 L669.5 1300.5 L675.1 1277.4 L680.7 1254.3 L686.3 1231.1 L691.9 1208.0 L697.5 1184.8 L703.1 1161.7 L708.8 1138.5 L714.5 1115.4 L720.1 1092.3 L725.8 1069.1 L731.5 1046.0 L737.2 1022.8 L742.9 999.7 L748.7 976.5 L754.4 953.4 L760.2 930.2 L765.9 907.1 L771.7 884.0 L777.5 860.8 L783.3 837.7 L789.1 814.5 L794.9 791.4 L800.8 768.2 L806.6 745.1 L812.5 721.9 L818.4 698.8 L824.2 675.7 L830.1 652.5 L836.0 629.4 L841.9 606.2 L847.9 583.1 L853.8 559.9 L859.8 536.8 L865.7 513.6 L871.7 490.5 L877.7 467.4 L883.7 444.2 L889.7 421.1 M596.0 1786.6 L601.2 1763.4 L606.4 1740.3 L611.6 1717.1 L616.8 1694.0 L622.1 1670.9 L627.4 1647.7 L632.6 1624.6 L637.9 1601.4 L643.2 1578.3 L648.5 1555.1 L653.8 1532.0 L659.2 1508.8 L664.5 1485.7 L669.9 1462.6 L675.3 1439.4 L680.7 1416.3 L686.1 1393.1 L691.5 1370.0 L696.9 1346.8 L702.4 1323.7 L707.8 1300.5 L713.3 1277.4 L718.8 1254.3 L724.3 1231.1 L729.8 1208.0 L735.3 1184.8 L740.9 1161.7 L746.4 1138.5 L752.0 1115.4 L757.5 1092.3 L763.1 1069.1 L768.7 1046.0 L774.3 1022.8 L779.9 999.7 L785.6 976.5 L791.2 953.4 L796.9 930.2 L802.6 907.1 L808.2 884.0 L813.9 860.8 L819.6 837.7 L825.3 814.5 L831.1 791.4 L836.8 768.2 L842.6 745.1 L848.3 721.9 L854.1 698.8 L859.9 675.7 L865.7 652.5 L871.5 629.4 L877.3 606.2 L883.2 583.1 L889.0 559.9 L894.9 536.8 L900.7 513.6 L906.6 490.5 L912.5 467.4 L918.4 444.2 L924.3 421.1 M728.4 1786.6 L733.2 1763.4 L738.0 1740.3 L742.9 1717.1 L747.7 1694.0 L752.6 1670.9 L757.5 1647.7 L762.4 1624.6 L767.3 1601.4 L772.2 1578.3 L777.2 1555.1 L782.2 1532.0 L787.1 1508.8 L792.1 1485.7 L797.1 1462.6 L802.1 1439.4 L807.2 1416.3 L812.2 1393.1 L817.3 1370.0 L822.4 1346.8 L827.5 1323.7 L832.6 1300.5 L837.7 1277.4 L842.8 1254.3 L848.0 1231.1 L853.2 1208.0 L858.3 1184.8 L863.5 1161.7 L868.7 1138.5 L874.0 1115.4 L879.2 1092.3 L884.4 1069.1 L889.7 1046.0 L895.0 1022.8 L900.3 999.7 L905.6 976.5 L910.9 953.4 L916.2 930.2 L921.6 907.1 L926.9 884.0 L932.3 860.8 L937.7 837.7 L943.1 814.5 L948.5 791.4 L953.9 768.2 L959.3 745.1 L964.8 721.9 L970.3 698.8 L975.7 675.7 L981.2 652.5 L986.7 629.4 L992.2 606.2 L997.8 583.1 L1003.3 559.9 L1008.8 536.8 L1014.4 513.6 L1020.0 490.5 L1025.6 467.4 L1031.2 444.2 L1036.8 421.1 M810.5 1786.6 L815.0 1763.4 L819.6 1740.3 L824.2 1717.1 L828.8 1694.0 L833.5 1670.9 L838.1 1647.7 L842.8 1624.6 L847.4 1601.4 L852.1 1578.3 L856.9 1555.1 L861.6 1532.0 L866.3 1508.8 L871.1 1485.7 L875.9 1462.6 L880.7 1439.4 L885.5 1416.3 L890.3 1393.1 L895.1 1370.0 L900.0 1346.8 L904.9 1323.7 L909.8 1300.5 L914.7 1277.4 L919.6 1254.3 L924.5 1231.1 L929.4 1208.0 L934.4 1184.8 L939.4 1161.7 L944.4 1138.5 L949.4 1115.4 L954.4 1092.3 L959.4 1069.1 L964.5 1046.0 L969.6 1022.8 L974.6 999.7 L979.7 976.5 L984.8 953.4 L990.0 930.2 L995.1 907.1 L1000.2 884.0 L1005.4 860.8 L1010.6 837.7 L1015.8 814.5 L1021.0 791.4 L1026.2 768.2 L1031.4 745.1 L1036.7 721.9 L1042.0 698.8 L1047.2 675.7 L1052.5 652.5 L1057.8 629.4 L1063.1 606.2 L1068.5 583.1 L1073.8 559.9 L1079.2 536.8 L1084.5 513.6 L1089.9 490.5 L1095.3 467.4 L1100.7 444.2 L1106.2 421.1 M870.8 1786.6 L875.2 1763.4 L879.6 1740.3 L884.1 1717.1 L888.5 1694.0 L892.9 1670.9 L897.4 1647.7 L901.9 1624.6 L906.4 1601.4 L910.9 1578.3 L915.5 1555.1 L920.0 1532.0 L924.6 1508.8 L929.2 1485.7 L933.8 1462.6 L938.4 1439.4 L943.1 1416.3 L947.7 1393.1 L952.4 1370.0 L957.1 1346.8 L961.8 1323.7 L966.5 1300.5 L971.2 1277.4 L976.0 1254.3 L980.7 1231.1 L985.5 1208.0 L990.3 1184.8 L995.1 1161.7 L1000.0 1138.5 L1004.8 1115.4 L1009.7 1092.3 L1014.6 1069.1 L1019.4 1046.0 L1024.3 1022.8 L1029.3 999.7 L1034.2 976.5 L1039.2 953.4 L1044.1 930.2 L1049.1 907.1 L1054.1 884.0 L1059.1 860.8 L1064.1 837.7 L1069.2 814.5 L1074.2 791.4 L1079.3 768.2 L1084.4 745.1 L1089.5 721.9 L1094.6 698.8 L1099.7 675.7 L1104.9 652.5 L1110.0 629.4 L1115.2 606.2 L1120.4 583.1 L1125.6 559.9 L1130.8 536.8 L1136.0 513.6 L1141.3 490.5 L1146.5 467.4 L1151.8 444.2 L1157.1 421.1 M959.2 1786.6 L963.3 1763.4 L967.4 1740.3 L971.6 1717.1 L975.7 1694.0 L979.9 1670.9 L984.1 1647.7 L988.3 1624.6 L992.6 1601.4 L996.8 1578.3 L1001.1 1555.1 L1005.4 1532.0 L1009.7 1508.8 L1014.1 1485.7 L1018.4 1462.6 L1022.8 1439.4 L1027.2 1416.3 L1031.6 1393.1 L1036.0 1370.0 L1040.4 1346.8 L1044.9 1323.7 L1049.4 1300.5 L1053.8 1277.4 L1058.3 1254.3 L1062.9 1231.1 L1067.4 1208.0 L1072.0 1184.8 L1076.5 1161.7 L1081.1 1138.5 L1085.7 1115.4 L1090.4 1092.3 L1095.0 1069.1 L1099.6 1046.0 L1104.3 1022.8 L1109.0 999.7 L1113.7 976.5 L1118.4 953.4 L1123.2 930.2 L1127.9 907.1 L1132.7 884.0 L1137.5 860.8 L1142.3 837.7 L1147.1 814.5 L1151.9 791.4 L1156.8 768.2 L1161.6 745.1 L1166.5 721.9 L1171.4 698.8 L1176.3 675.7 L1181.2 652.5 L1186.2 629.4 L1191.1 606.2 L1196.1 583.1 L1201.1 559.9 L1206.1 536.8 L1211.1 513.6 L1216.1 490.5 L1221.1 467.4 L1226.2 444.2 L1231.3 421.1 M1024.2 1786.6 L1028.1 1763.4 L1032.0 1740.3 L1035.9 1717.1 L1039.9 1694.0 L1043.9 1670.9 L1047.9 1647.7 L1051.9 1624.6 L1056.0 1601.4 L1060.0 1578.3 L1064.1 1555.1 L1068.2 1532.0 L1072.3 1508.8 L1076.5 1485.7 L1080.6 1462.6 L1084.8 1439.4 L1089.0 1416.3 L1093.2 1393.1 L1097.5 1370.0 L1101.7 1346.8 L1106.0 1323.7 L1110.3 1300.5 L1114.6 1277.4 L1118.9 1254.3 L1123.2 1231.1 L1127.6 1208.0 L1132.0 1184.8 L1136.3 1161.7 L1140.8 1138.5 L1145.2 1115.4 L1149.6 1092.3 L1154.1 1069.1 L1158.6 1046.0 L1163.1 1022.8 L1167.6 999.7 L1172.1 976.5 L1176.6 953.4 L1181.2 930.2 L1185.8 907.1 L1190.4 884.0 L1195.0 860.8 L1199.6 837.7 L1204.3 814.5 L1208.9 791.4 L1213.6 768.2 L1218.3 745.1 L1223.0 721.9 L1227.7 698.8 L1232.5 675.7 L1237.2 652.5 L1242.0 629.4 L1246.8 606.2 L1251.6 583.1 L1256.4 559.9 L1261.3 536.8 L1266.1 513.6 L1271.0 490.5 L1275.9 467.4 L1280.8 444.2 L1285.7 421.1 M1075.9 1786.6 L1079.7 1763.4 L1083.4 1740.3 L1087.2 1717.1 L1091.0 1694.0 L1094.8 1670.9 L1098.7 1647.7 L1102.6 1624.6 L1106.4 1601.4 L1110.3 1578.3 L1114.3 1555.1 L1118.2 1532.0 L1122.2 1508.8 L1126.2 1485.7 L1130.2 1462.6 L1134.2 1439.4 L1138.2 1416.3 L1142.3 1393.1 L1146.4 1370.0 L1150.5 1346.8 L1154.6 1323.7 L1158.7 1300.5 L1162.9 1277.4 L1167.0 1254.3 L1171.2 1231.1 L1175.4 1208.0 L1179.7 1184.8 L1183.9 1161.7 L1188.2 1138.5 L1192.5 1115.4 L1196.8 1092.3 L1201.1 1069.1 L1205.4 1046.0 L1209.8 1022.8 L1214.1 999.7 L1218.5 976.5 L1222.9 953.4 L1227.4 930.2 L1231.8 907.1 L1236.3 884.0 L1240.7 860.8 L1245.2 837.7 L1249.7 814.5 L1254.3 791.4 L1258.8 768.2 L1263.4 745.1 L1267.9 721.9 L1272.5 698.8 L1277.1 675.7 L1281.8 652.5 L1286.4 629.4 L1291.1 606.2 L1295.8 583.1 L1300.4 559.9 L1305.2 536.8 L1309.9 513.6 L1314.6 490.5 L1319.4 467.4 L1324.1 444.2 L1328.9 421.1 M1156.2 1786.6 L1159.7 1763.4 L1163.2 1740.3 L1166.7 1717.1 L1170.3 1694.0 L1173.9 1670.9 L1177.5 1647.7 L1181.1 1624.6 L1184.7 1601.4 L1188.4 1578.3 L1192.0 1555.1 L1195.7 1532.0 L1199.4 1508.8 L1203.2 1485.7 L1206.9 1462.6 L1210.7 1439.4 L1214.5 1416.3 L1218.3 1393.1 L1222.2 1370.0 L1226.0 1346.8 L1229.9 1323.7 L1233.8 1300.5 L1237.7 1277.4 L1241.7 1254.3 L1245.6 1231.1 L1249.6 1208.0 L1253.6 1184.8 L1257.6 1161.7 L1261.7 1138.5 L1265.7 1115.4 L1269.8 1092.3 L1273.9 1069.1 L1278.0 1046.0 L1282.1 1022.8 L1286.3 999.7 L1290.4 976.5 L1294.6 953.4 L1298.8 930.2 L1303.1 907.1 L1307.3 884.0 L1311.6 860.8 L1315.8 837.7 L1320.1 814.5 L1324.4 791.4 L1328.8 768.2 L1333.1 745.1 L1337.5 721.9 L1341.9 698.8 L1346.3 675.7 L1350.7 652.5 L1355.1 629.4 L1359.6 606.2 L1364.0 583.1 L1368.5 559.9 L1373.0 536.8 L1377.6 513.6 L1382.1 490.5 L1386.7 467.4 L1391.2 444.2 L1395.8 421.1 M1218.0 1786.6 L1221.2 1763.4 L1224.5 1740.3 L1227.9 1717.1 L1231.2 1694.0 L1234.6 1670.9 L1238.0 1647.7 L1241.4 1624.6 L1244.8 1601.4 L1248.3 1578.3 L1251.8 1555.1 L1255.3 1532.0 L1258.8 1508.8 L1262.3 1485.7 L1265.9 1462.6 L1269.5 1439.4 L1273.1 1416.3 L1276.7 1393.1 L1280.4 1370.0 L1284.1 1346.8 L1287.8 1323.7 L1291.5 1300.5 L1295.2 1277.4 L1299.0 1254.3 L1302.7 1231.1 L1306.5 1208.0 L1310.4 1184.8 L1314.2 1161.7 L1318.1 1138.5 L1321.9 1115.4 L1325.8 1092.3 L1329.7 1069.1 L1333.7 1046.0 L1337.6 1022.8 L1341.6 999.7 L1345.6 976.5 L1349.6 953.4 L1353.7 930.2 L1357.7 907.1 L1361.8 884.0 L1365.9 860.8 L1370.0 837.7 L1374.1 814.5 L1378.2 791.4 L1382.4 768.2 L1386.6 745.1 L1390.8 721.9 L1395.0 698.8 L1399.3 675.7 L1403.5 652.5 L1407.8 629.4 L1412.1 606.2 L1416.4 583.1 L1420.7 559.9 L1425.1 536.8 L1429.4 513.6 L1433.8 490.5 L1438.2 467.4 L1442.6 444.2 L1447.1 421.1 M1290.4 1786.6 L1293.4 1763.4 L1296.5 1740.3 L1299.6 1717.1 L1302.7 1694.0 L1305.8 1670.9 L1309.0 1647.7 L1312.1 1624.6 L1315.4 1601.4 L1318.6 1578.3 L1321.8 1555.1 L1325.1 1532.0 L1328.4 1508.8 L1331.7 1485.7 L1335.1 1462.6 L1338.4 1439.4 L1341.8 1416.3 L1345.2 1393.1 L1348.6 1370.0 L1352.1 1346.8 L1355.6 1323.7 L1359.1 1300.5 L1362.6 1277.4 L1366.1 1254.3 L1369.7 1231.1 L1373.3 1208.0 L1376.9 1184.8 L1380.5 1161.7 L1384.1 1138.5 L1387.8 1115.4 L1391.5 1092.3 L1395.2 1069.1 L1398.9 1046.0 L1402.7 1022.8 L1406.4 999.7 L1410.2 976.5 L1414.0 953.4 L1417.9 930.2 L1421.7 907.1 L1425.6 884.0 L1429.5 860.8 L1433.4 837.7 L1437.3 814.5 L1441.3 791.4 L1445.2 768.2 L1449.2 745.1 L1453.2 721.9 L1457.2 698.8 L1461.3 675.7 L1465.4 652.5 L1469.4 629.4 L1473.5 606.2 L1477.7 583.1 L1481.8 559.9 L1486.0 536.8 L1490.1 513.6 L1494.3 490.5 L1498.5 467.4 L1502.8 444.2 L1507.0 421.1 M1364.6 1786.6 L1367.4 1763.4 L1370.2 1740.3 L1373.0 1717.1 L1375.9 1694.0 L1378.8 1670.9 L1381.7 1647.7 L1384.6 1624.6 L1387.6 1601.4 L1390.5 1578.3 L1393.6 1555.1 L1396.6 1532.0 L1399.6 1508.8 L1402.7 1485.7 L1405.8 1462.6 L1409.0 1439.4 L1412.1 1416.3 L1415.3 1393.1 L1418.5 1370.0 L1421.7 1346.8 L1424.9 1323.7 L1428.2 1300.5 L1431.5 1277.4 L1434.8 1254.3 L1438.1 1231.1 L1441.5 1208.0 L1444.9 1184.8 L1448.3 1161.7 L1451.7 1138.5 L1455.1 1115.4 L1458.6 1092.3 L1462.1 1069.1 L1465.6 1046.0 L1469.1 1022.8 L1472.7 999.7 L1476.3 976.5 L1479.9 953.4 L1483.5 930.2 L1487.1 907.1 L1490.8 884.0 L1494.5 860.8 L1498.2 837.7 L1501.9 814.5 L1505.6 791.4 L1509.4 768.2 L1513.2 745.1 L1517.0 721.9 L1520.8 698.8 L1524.7 675.7 L1528.5 652.5 L1532.4 629.4 L1536.3 606.2 L1540.2 583.1 L1544.2 559.9 L1548.2 536.8 L1552.1 513.6 L1556.1 490.5 L1560.2 467.4 L1564.2 444.2 L1568.3 421.1" class="mix"/>
<path d="M860.4 1791.5 L1576.3 157.5" class="zero"/>
<path d="M-534.6 1791.5 L181.3 157.5 M-457.1 1791.5 L258.8 157.5 M-379.6 1791.5 L336.3 157.5 M-302.1 1791.5 L413.8 157.5 M-224.6 1791.5 L491.3 157.5 M-147.1 1791.5 L568.8 157.5 M-69.6 1791.5 L646.3 157.5 M7.9 1791.5 L723.8 157.5 M85.4 1791.5 L801.3 157.5 M162.9 1791.5 L878.8 157.5 M240.4 1791.5 L956.3 157.5 M317.9 1791.5 L1033.8 157.5 M395.4 1791.5 L1111.3 157.5 M472.9 1791.5 L1188.8 157.5 M550.4 1791.5 L1266.3 157.5 M627.9 1791.5 L1343.8 157.5 M705.4 1791.5 L1421.3 157.5 M782.9 1791.5 L1498.8 157.5 M937.9 1791.5 L1653.8 157.5 M1015.4 1791.5 L1731.3 157.5 M1092.9 1791.5 L1808.8 157.5 M1170.4 1791.5 L1886.3 157.5 M1247.9 1791.5 L1963.8 157.5 M1325.4 1791.5 L2041.3 157.5 M1402.9 1791.5 L2118.8 157.5" class="grid"/>
<path d="M163.5 404.5 H1403.5 M163.5 596.5 H1403.5 M163.5 754.5 H1403.5 M163.5 886.5 H1403.5 M163.5 1001.5 H1403.5 M163.5 1103.5 H1403.5 M163.5 1193.5 H1403.5 M163.5 1276.5 H1403.5 M163.5 1351.5 H1403.5 M163.5 1419.5 H1403.5 M163.5 1483.5 H1403.5 M163.5 1543.5 H1403.5 M163.5 1598.5 H1403.5 M163.5 1651.5 H1403.5 M163.5 1700.5 H1403.5 M163.5 1746.5 H1403.5" class="grid"/>
<path d="M163.5 1791.5 v-11.1 M241.0 1791.5 v-11.1 M318.5 1791.5 v-11.1 M396.0 1791.5 v-11.1 M473.5 1791.5 v-11.1 M551.0 1791.5 v-11.1 M628.5 1791.5 v-11.1 M706.0 1791.5 v-11.1 M783.5 1791.5 v-11.1 M861.0 1791.5 v-11.1 M938.5 1791.5 v-11.1 M1016.0 1791.5 v-11.1 M1093.5 1791.5 v-11.1 M1171.0 1791.5 v-11.1 M1248.5 1791.5 v-11.1 M1326.0 1791.5 v-11.1 M1403.5 1791.5 v-11.1 M181.9 157.5 v11.1 M259.4 157.5 v11.1 M336.9 157.5 v11.1 M414.4 157.5 v11.1 M491.9 157.5 v11.1 M569.4 157.5 v11.1 M646.9 157.5 v11.1 M724.4 157.5 v11.1 M801.9 157.5 v11.1 M879.4 157.5 v11.1 M956.9 157.5 v11.1 M1034.4 157.5 v11.1 M1111.9 157.5 v11.1 M1189.4 157.5 v11.1 M1266.9 157.5 v11.1 M1344.4 157.5 v11.1 M163.5 157.5 h11.1 M1403.5 157.5 h-11.1 M163.5 404.5 h11.1 M1403.5 404.5 h-11.1 M163.5 596.5 h11.1 M1403.5 596.5 h-11.1 M163.5 754.5 h11.1 M1403.5 754.5 h-11.1 M163.5 886.5 h11.1 M1403.5 886.5 h-11.1 M163.5 1001.5 h11.1 M1403.5 1001.5 h-11.1 M163.5 1103.5 h11.1 M1403.5 1103.5 h-11.1 M163.5 1193.5 h11.1 M1403.5 1193.5 h-11.1 M163.5 1276.5 h11.1 M1403.5 1276.5 h-11.1 M163.5 1351.5 h11.1 M1403.5 1351.5 h-11.1 M163.5 1419.5 h11.1 M1403.5 1419.5 h-11.1 M163.5 1483.5 h11.1 M1403.5 1483.5 h-11.1 M163.5 1543.5 h11.1 M1403.5 1543.5 h-11.1 M163.5 1598.5 h11.1 M1403.5 1598.5 h-11.1 M163.5 1651.5 h11.1 M1403.5 1651.5 h-11.1 M163.5 1700.5 h11.1 M1403.5 1700.5 h-11.1 M163.5 1746.5 h11.1 M1403.5 1746.5 h-11.1 M163.5 1791.5 h11.1 M1403.5 1791.5 h-11.1" class="tick"/>
</g>
<rect x="163.5" y="157.5" width="1240.0" height="1634.0" fill="none" stroke="#000" stroke-width="2.78"/>
<rect x="45.2" y="1892.8" width="1477.2" height="119.8" rx="7.8" ry="7.8" fill="#fff" stroke="#000" stroke-width="2.78"/>
<path d="M71.1 1937.4 H150.0" stroke="#ff0000" stroke-width="2.78" fill="none"/>
<path d="M71.1 1967.5 H150.0" stroke="#ffa500" stroke-width="2.78" fill="none"/>
<path d="M493.2 1937.4 H571.8" stroke="#00008b" stroke-width="2.78" fill="none"/>
<path d="M493.2 1967.5 H571.8" stroke="#00e0d8" stroke-width="2.78" fill="none"/>
<path d="M914.2 1937.4 H992.5" stroke="#610a4e" stroke-width="2.78" fill="none"/>
<path d="M914.2 1967.5 H992.5" stroke="#e000d8" stroke-width="2.78" fill="none"/>
<text transform="translate(440.82 50.90) scale(1.0811 1)" font-size="42">Temps München vom 20.07.2019</text>
<text transform="translate(284.68 98.00) scale(1.0744 1)" font-size="42">mit Radiosondendaten aus Oberschleissheim und</text>
<text transform="translate(404.25 144.40) scale(1.0827 1)" font-size="42">Mikrowellenradiometerdaten vom MIM</text>
<text transform="translate(89.20 166.90) scale(1.0237 1)" font-size="36">150</text>
<text transform="translate(89.20 414.70) scale(1.0237 1)" font-size="36">200</text>
<text transform="translate(89.20 606.70) scale(1.0237 1)" font-size="36">250</text>
<text transform="translate(89.20 764.70) scale(1.0237 1)" font-size="36">300</text>
<text transform="translate(89.20 896.70) scale(1.0237 1)" font-size="36">350</text>
<text transform="translate(89.20 1011.70) scale(1.0237 1)" font-size="36">400</text>
<text transform="translate(89.20 1113.70) scale(1.0237 1)" font-size="36">450</text>
<text transform="translate(89.20 1203.70) scale(1.0237 1)" font-size="36">500</text>
<text transform="translate(89.20 1286.70) scale(1.0237 1)" font-size="36">550</text>
<text transform="translate(89.20 1361.70) scale(1.0237 1)" font-size="36">600</text>
<text transform="translate(89.20 1429.70) scale(1.0237 1)" font-size="36">650</text>
<text transform="translate(89.20 1493.70) scale(1.0237 1)" font-size="36">700</text>
<text transform="translate(89.20 1553.70) scale(1.0237 1)" font-size="36">750</text>
<text transform="translate(89.20 1608.70) scale(1.0237 1)" font-size="36">800</text>
<text transform="translate(89.20 1661.70) scale(1.0237 1)" font-size="36">850</text>
<text transform="translate(89.20 1710.70) scale(1.0237 1)" font-size="36">900</text>
<text transform="translate(89.20 1756.70) scale(1.0237 1)" font-size="36">950</text>
<text transform="translate(68.73 1801.10) scale(1.0237 1)" font-size="36">1000</text>
<text transform="translate(129.13 1827.90) scale(1.1086 1)" font-size="36">−45</text>
<text transform="translate(206.63 1827.90) scale(1.1086 1)" font-size="36">−40</text>
<text transform="translate(284.13 1827.90) scale(1.1086 1)" font-size="36">−35</text>
<text transform="translate(361.63 1827.90) scale(1.1086 1)" font-size="36">−30</text>
<text transform="translate(439.13 1827.90) scale(1.1086 1)" font-size="36">−25</text>
<text transform="translate(516.63 1827.90) scale(1.1086 1)" font-size="36">−20</text>
<text transform="translate(594.13 1827.90) scale(1.1086 1)" font-size="36">−15</text>
<text transform="translate(671.63 1827.90) scale(1.1086 1)" font-size="36">−10</text>
<text transform="translate(760.22 1827.90) scale(1.1086 1)" font-size="36">−5</text>
<text transform="translate(849.91 1827.90) scale(1.1086 1)" font-size="36">0</text>
<text transform="translate(927.41 1827.90) scale(1.1086 1)" font-size="36">5</text>
<text transform="translate(992.72 1827.90) scale(1.1086 1)" font-size="36">10</text>
<text transform="translate(1070.22 1827.90) scale(1.1086 1)" font-size="36">15</text>
<text transform="translate(1148.27 1827.90) scale(1.1086 1)" font-size="36">20</text>
<text transform="translate(1225.77 1827.90) scale(1.1086 1)" font-size="36">25</text>
<text transform="translate(1303.83 1827.90) scale(1.1086 1)" font-size="36">30</text>
<text transform="translate(1381.33 1827.90) scale(1.1086 1)" font-size="36">35</text>
<text transform="translate(634.98 1877.50) scale(1.1161 1)" font-size="35">Temperatur in</text>
<text transform="translate(907.31 1877.50) scale(0.9455 1)" font-size="35">C</text>
<text transform="translate(44.90 1077.60) rotate(-90) translate(-3.11 0) scale(1.0379 1)" font-size="35">Druck in hPa</text>
<text transform="translate(192.31 1964.00) scale(0.9947 1)" font-size="43.5">00:03 UTC</text>
<text transform="translate(614.31 1964.00) scale(0.9942 1)" font-size="43.5">22:44 UTC</text>
<text transform="translate(1034.85 1964.20) scale(1.0275 1)" font-size="43">Sondenaufstieg 00 UTC</text>
<circle cx="895.5" cy="1858.6" r="4.4" fill="none" stroke="#000" stroke-width="1.3"/>
</svg>
</body></html>
